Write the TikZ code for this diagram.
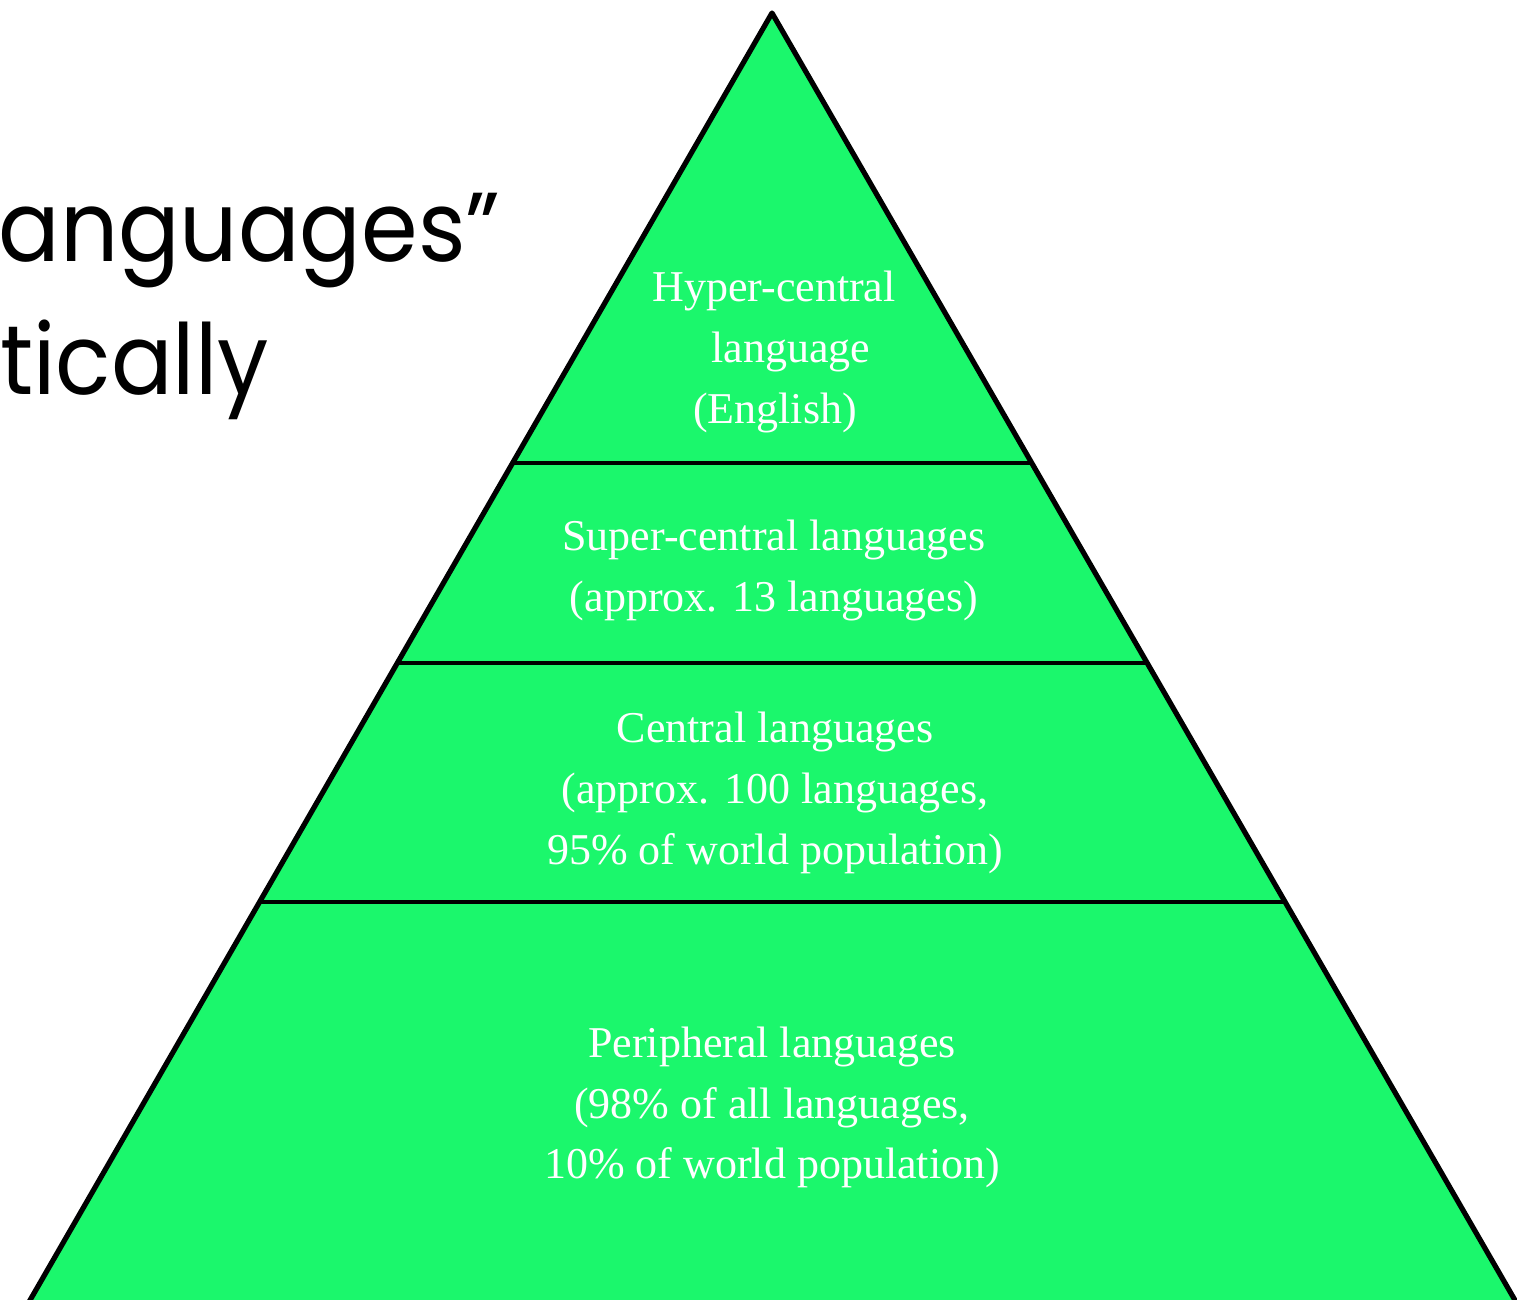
\documentclass[tikz,border=0pt]{standalone}
\usepackage{fontspec}
\setmainfont{Liberation Serif}
\newfontfamily\slidefont[FakeStretch=0.93]{Poppins}
\usetikzlibrary{calc}
\definecolor{pgreen}{RGB}{27,247,108}
\tikzset{
  tier/.style={text=white, anchor=base, inner sep=0pt, font=\fontsize{22}{26}\selectfont},
  edge/.style={draw=black, line width=2.6pt, line join=round},
  divider/.style={draw=black, line width=2pt},
  slide/.style={text=black, inner sep=0pt, anchor=base west, font=\slidefont\fontsize{49}{55}\selectfont}
}
\begin{document}
\begin{tikzpicture}[x=0.5pt,y=-0.5pt]
\useasboundingbox (0,0) rectangle (1517,1300);
\clip (0,0) rectangle (1517,1300);
% slide text fragments
\node[slide] (t1) at (-2,262) {anguages”};
\node[slide] (t2) at (0,395) {tically};
% pyramid
\coordinate (apex) at (772,13);
\coordinate (bl) at (29,1302);
\coordinate (br) at (1516,1302);
\fill[pgreen] (bl) -- (apex) -- (br) -- cycle;
\draw[edge] (bl) -- (apex) -- (br);
\foreach \yy/\nm in {463/d1, 663/d2, 902/d3}{
  \coordinate (\nm l) at ($(apex)!{(\yy-13)/(1302-13)}!(bl)$);
  \coordinate (\nm r) at ($(apex)!{(\yy-13)/(1302-13)}!(br)$);
  \draw[divider] (\nm l) -- (\nm r);
}
% labels
\node[tier] (h1) at (774,302) {Hyper-central};
\node[tier] (h2) at (791,363) {language};
\node[tier] (h3) at (775,423) {(English)};
\node[tier] (s1) at (774,550) {Super-central languages};
\node[tier] (s2) at (774,611) {(approx. 13 languages)};
\node[tier] (c1) at (775,742) {Central languages};
\node[tier] (c2) at (775,803) {(approx. 100 languages,};
\node[tier] (c3) at (775,864) {95\% of world population)};
\node[tier] (p1) at (772,1057) {Peripheral languages};
\node[tier] (p2) at (772,1118) {(98\% of all languages,};
\node[tier] (p3) at (772,1178) {10\% of world population)};
\end{tikzpicture}
\end{document}
